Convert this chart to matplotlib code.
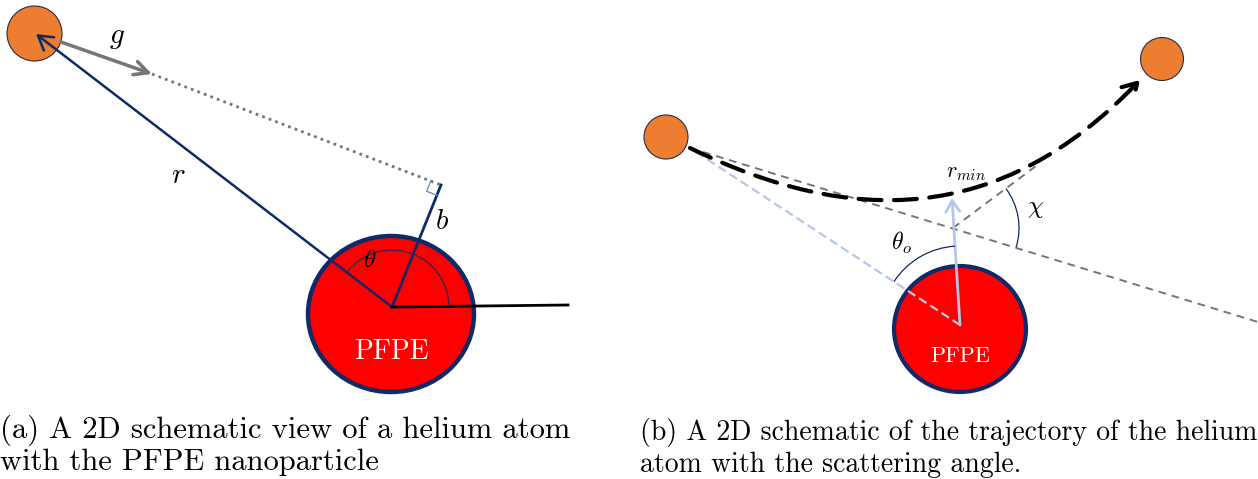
import numpy as np
import matplotlib.pyplot as plt
from matplotlib.patches import Circle, Ellipse, Arc, FancyArrowPatch
from matplotlib.path import Path

plt.rcParams['mathtext.fontset'] = 'cm'

ORANGE = '#ED7D31'
NAVY = '#0F2A66'
RED = '#FF0000'
GREY = '#767676'
LIGHT = '#B4C7E7'

# panel (a) geometry, in pixels
atom_a = (34.5, 33.5)
pfpe_a = (391, 314)
centre_a = (392, 307)
foot_b = (441, 185)
g_tip = (152, 74)
x_axis_end = (568, 305)

# panel (b) geometry
atom_in = (666, 137)
atom_out = (1162, 59)
pfpe_b = (960, 329)
centre_b = (960, 325)
traj = [(690, 148), (850, 226), (1000, 226), (1140, 80)]
cross = (953, 228)
in_end = (1258, 322)
out_end = (1040, 163)
rmin_tip = (952, 198)

fig = plt.figure(figsize=(12.58, 4.79), dpi=100)
ax = fig.add_axes([0, 0, 1, 1])
ax.set_xlim(0, 1258)
ax.set_ylim(479, 0)
ax.axis('off')

# ---- (a) ----
ax.add_patch(Ellipse(pfpe_a, 166, 156, fc=RED, ec=NAVY, lw=3.2, zorder=2))
ax.text(pfpe_a[0], 352, 'PFPE', color='white', fontsize=20, family='cmr10',
        ha='center', va='center', zorder=5)
ax.add_patch(Circle(atom_a, 27.5, fc=ORANGE, ec='#2b2b40', lw=0.8, zorder=3))

ax.plot([g_tip[0], foot_b[0]], [g_tip[1], foot_b[1]], ls=(0, (1, 1.5)),
        color=GREY, lw=2, zorder=2)
ax.add_patch(FancyArrowPatch((61, 42), g_tip, arrowstyle='->,head_length=10,head_width=5',
                             color=GREY, lw=2.5, zorder=4, shrinkA=0, shrinkB=0))
ax.add_patch(FancyArrowPatch(centre_a, (36, 34), arrowstyle='->,head_length=10,head_width=6',
                             color=NAVY, lw=1.8, zorder=4, shrinkA=0, shrinkB=0))
ax.plot([centre_a[0], foot_b[0]], [centre_a[1], foot_b[1]], color=NAVY, lw=2, zorder=4)
ax.plot([centre_a[0], x_axis_end[0]], [centre_a[1], x_axis_end[1]], color='black', lw=2, zorder=4)

# right-angle mark at the foot of b
u = np.array(g_tip) - np.array(foot_b)
u = u / np.linalg.norm(u) * 11
v = np.array(centre_a) - np.array(foot_b)
v = v / np.linalg.norm(v) * 11
p1 = np.array(foot_b) + u
p2 = p1 + v
p3 = np.array(foot_b) + v
ax.plot([p1[0], p2[0], p3[0]], [p1[1], p2[1], p3[1]], color='#6f8fc9', lw=1, zorder=4)

ang_r = np.degrees(np.arctan2(-(34 - centre_a[1]), 36 - centre_a[0]))
ax.add_patch(Arc(centre_a, 114, 114, theta1=-ang_r, theta2=0, color=NAVY, lw=0.8, zorder=4))

ax.text(178, 175, '$r$', fontsize=21, ha='center', va='center')
ax.text(117, 37, '$g$', fontsize=21, ha='center', va='center')
ax.text(442, 221, '$b$', fontsize=21, ha='center', va='center')
ax.text(370, 260, r'$\theta$', fontsize=18, ha='center', va='center', zorder=5)

# ---- (b) ----
ax.add_patch(Ellipse(pfpe_b, 132, 126, fc=RED, ec=NAVY, lw=3, zorder=2))
ax.text(pfpe_b[0], 356, 'PFPE', color='white', fontsize=16, family='cmr10',
        ha='center', va='center', zorder=5)
ax.add_patch(Circle(atom_in, 22, fc=ORANGE, ec='#2b2b40', lw=0.8, zorder=3))
ax.add_patch(Circle(atom_out, 21.5, fc=ORANGE, ec='#2b2b40', lw=0.8, zorder=3))

ax.plot([traj[0][0], in_end[0]], [traj[0][1], in_end[1]], ls=(0, (4, 3)),
        color=GREY, lw=1.4, zorder=2)
ax.plot([cross[0], out_end[0]], [cross[1], out_end[1]], ls=(0, (4, 3)),
        color=GREY, lw=1.4, zorder=2)
ax.plot([centre_b[0], traj[0][0]], [centre_b[1], traj[0][1]], ls=(0, (4, 2)),
        color=LIGHT, lw=1.6, zorder=3)
ax.add_patch(FancyArrowPatch(centre_b, rmin_tip, arrowstyle='->,head_length=8,head_width=5',
                             color=LIGHT, lw=2, zorder=4, shrinkA=0, shrinkB=0))

# curved trajectory of the helium atom
path = Path(traj, [Path.MOVETO, Path.CURVE4, Path.CURVE4, Path.CURVE4])
ax.add_patch(FancyArrowPatch(path=path, arrowstyle='->,head_length=10,head_width=6',
                             color='black', lw=3, ls=(0, (5.5, 3)), zorder=4))

a_in = np.degrees(np.arctan2(-(in_end[1] - cross[1]), in_end[0] - cross[0]))
a_out = np.degrees(np.arctan2(-(out_end[1] - cross[1]), out_end[0] - cross[0]))
ax.add_patch(Arc(cross, 132, 132, theta1=-a_out, theta2=-a_in, color=NAVY, lw=0.9, zorder=4))

a_up = np.degrees(np.arctan2(-(rmin_tip[1] - centre_b[1]), rmin_tip[0] - centre_b[0]))
a_left = np.degrees(np.arctan2(-(traj[0][1] - centre_b[1]), traj[0][0] - centre_b[0]))
ax.add_patch(Arc(centre_b, 158, 158, theta1=-a_left, theta2=-a_up, color=NAVY, lw=0.9, zorder=4))

ax.text(966, 173, r'$r_{min}$', fontsize=16, ha='center', va='center')
ax.text(1035, 208, r'$\chi$', fontsize=18, ha='center', va='center')
ax.text(901, 243, r'$\theta_o$', fontsize=17, ha='center', va='center')

# captions (baseline of the second line)
ax.text(0, 470, '(a) A 2D schematic view of a helium atom\nwith the PFPE nanoparticle',
        fontsize=22, family='cmr10', ha='left', va='baseline', linespacing=1.12)
ax.text(640, 472, '(b) A 2D schematic of the trajectory of the helium\natom with the scattering angle.',
        fontsize=20, family='cmr10', ha='left', va='baseline', linespacing=1.23)

fig.savefig('out.png', dpi=100)
